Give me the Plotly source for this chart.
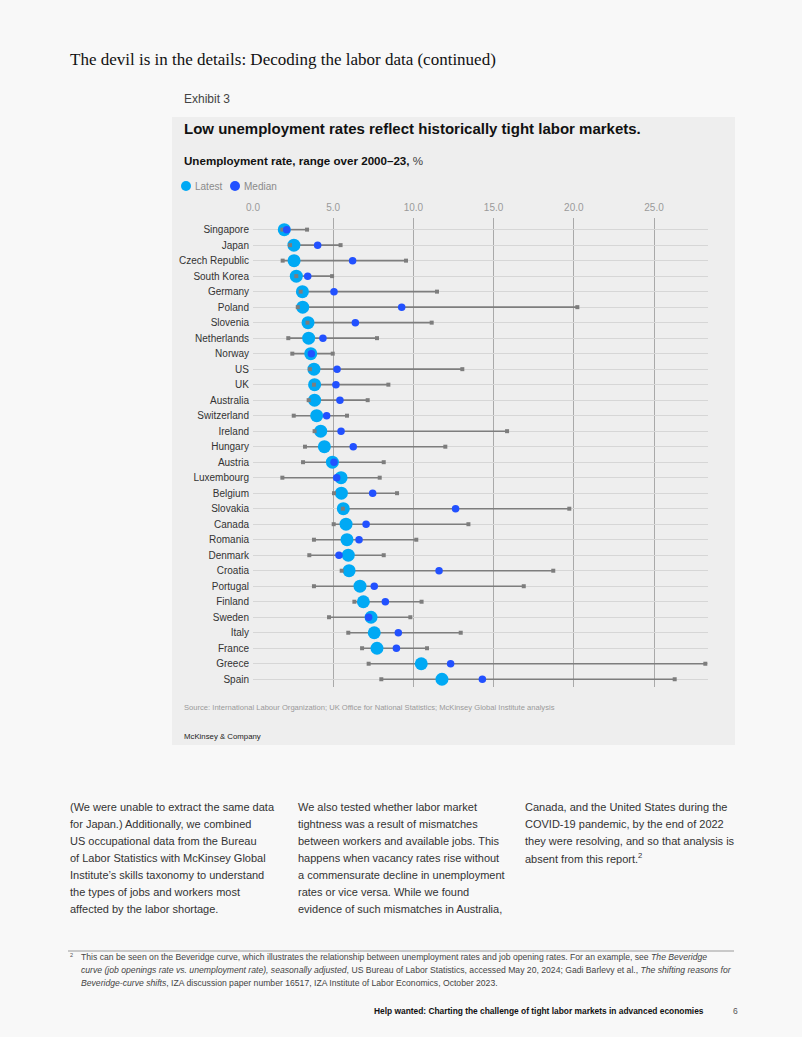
import plotly.graph_objects as go

countries = ["Singapore", "Japan", "Czech Republic", "South Korea", "Germany", "Poland",
             "Slovenia", "Netherlands", "Norway", "US", "UK", "Australia", "Switzerland",
             "Ireland", "Hungary", "Austria", "Luxembourg", "Belgium", "Slovakia", "Canada",
             "Romania", "Denmark", "Croatia", "Portugal", "Finland", "Sweden", "Italy",
             "France", "Greece", "Spain"]
latest = [1.95, 2.55, 2.56, 2.7, 3.08, 3.1, 3.43, 3.47, 3.6, 3.8, 3.84, 3.84, 3.97,
          4.22, 4.45, 4.95, 5.49, 5.51, 5.63, 5.8, 5.86, 5.94, 5.99, 6.67, 6.88, 7.36,
          7.56, 7.73, 10.49, 11.78]
median = [2.1, 4.03, 6.21, 3.41, 5.05, 9.27, 6.38, 4.36, 3.64, 5.24, 5.17, 5.42, 4.59,
          5.49, 6.25, 5.05, 5.22, 7.46, 12.63, 7.05, 6.61, 5.36, 11.6, 7.56, 8.25, 7.21,
          9.06, 8.94, 12.32, 14.3]
range_min = [1.83, 2.31, 1.85, 2.7, 2.97, 2.79, 3.4, 2.2, 2.45, 3.55, 3.8, 3.47, 2.54,
             3.84, 3.24, 3.12, 1.83, 5.05, 5.6, 5.03, 3.8, 3.51, 5.53, 3.8, 6.32, 4.74,
             5.94, 6.8, 7.21, 8.0]
range_max = [3.37, 5.46, 9.54, 4.93, 11.47, 20.22, 11.14, 7.73, 4.97, 13.05, 8.44, 7.15,
             5.86, 15.84, 11.99, 8.15, 7.9, 8.98, 19.72, 13.43, 10.18, 8.15, 18.72, 16.88,
             10.51, 9.81, 12.95, 10.85, 28.2, 26.29]
x_ticks = [0, 5, 10, 15, 20, 25]

CYAN = "#00a9f4"
BLUE = "#2251ff"
GREY = "#7d7d7d"
SANS = "Liberation Sans, Arial, sans-serif"

W_PX, H_PX = 802, 1037
L, R_EDGE, T, B = 253, 708, 218, 687

def px(xp):
    return (xp - L) / (R_EDGE - L)

def py(yp):
    return (B - yp) / (B - T)

n = len(countries)
rows = list(range(n))

line_x, line_y = [], []
for i in rows:
    line_x += [range_min[i], range_max[i], None]
    line_y += [i, i, None]

fig = go.Figure()
fig.add_trace(go.Scatter(x=line_x, y=line_y, mode="lines",
                         line=dict(color=GREY, width=1.6), hoverinfo="skip",
                         showlegend=False))
fig.add_trace(go.Scatter(x=latest, y=rows, mode="markers", name="Latest",
                         marker=dict(color=CYAN, size=13, line=dict(width=0)),
                         showlegend=False))
fig.add_trace(go.Scatter(x=range_min + range_max, y=rows + rows, mode="markers",
                         marker=dict(color=GREY, size=4, symbol="square", line=dict(width=0)),
                         hoverinfo="skip", showlegend=False))
fig.add_trace(go.Scatter(x=median, y=rows, mode="markers", name="Median",
                         marker=dict(color=BLUE, size=7.5, line=dict(width=0)),
                         showlegend=False))

shapes = [
    dict(type="rect", xref="paper", yref="paper", x0=px(172), x1=px(735),
         y0=py(745), y1=py(117), fillcolor="#eeeeee", line=dict(width=0), layer="below"),
    dict(type="line", xref="paper", yref="paper", x0=px(68), x1=px(734),
         y0=py(951), y1=py(951), line=dict(color="#9a9a9a", width=1.2)),
    dict(type="circle", xref="paper", yref="paper", x0=px(181), x1=px(191),
         y0=py(191), y1=py(181), fillcolor=CYAN, line=dict(width=0)),
    dict(type="circle", xref="paper", yref="paper", x0=px(230), x1=px(240),
         y0=py(191), y1=py(181), fillcolor=BLUE, line=dict(width=0)),
]

ann = []

def text(x, y, s, size, color="#222", family=SANS, anchor="left", weight=None):
    f = dict(size=size, color=color, family=family)
    if weight:
        f["weight"] = weight
    ann.append(dict(xref="paper", yref="paper", x=px(x), y=py(y), text=s,
                    showarrow=False, xanchor=anchor, yanchor="middle",
                    font=f, align="left"))

text(68, 59, "The devil is in the details: Decoding the labor data (continued)", 17,
     color="#111", family="Liberation Serif, Times New Roman, serif")
text(182, 99, "Exhibit 3", 12, color="#444")
text(182, 128, "Low unemployment rates reflect historically tight labor markets.", 15,
     color="#111", weight=600)
text(182, 161, "<b>Unemployment rate, range over 2000–23,</b> <span style='color:#444'>%</span>",
     11.6, color="#111")
text(193, 186, "Latest", 10, color="#8a8a8a")
text(242, 186, "Median", 10, color="#8a8a8a")
text(182, 707, "Source: International Labour Organization; UK Office for National Statistics; McKinsey Global Institute analysis",
     7.6, color="#9a9a9a")
text(182, 736, "McKinsey & Company", 7.8, color="#222")

col1 = ["(We were unable to extract the same data",
        "for Japan.) Additionally, we combined",
        "US occupational data from the Bureau",
        "of Labor Statistics with McKinsey Global",
        "Institute’s skills taxonomy to understand",
        "the types of jobs and workers most",
        "affected by the labor shortage."]
col2 = ["We also tested whether labor market",
        "tightness was a result of mismatches",
        "between workers and available jobs. This",
        "happens when vacancy rates rise without",
        "a commensurate decline in unemployment",
        "rates or vice versa. While we found",
        "evidence of such mismatches in Australia,"]
col3 = ["Canada, and the United States during the",
        "COVID-19 pandemic, by the end of 2022",
        "they were resolving, and so that analysis is",
        "absent from this report.<sup>2</sup>"]
for cx, col in [(68, col1), (296, col2), (523, col3)]:
    for k, line in enumerate(col):
        text(cx, 807 + 17 * k, line, 11, color="#333")

text(68, 955, "<sup>2</sup>", 8, color="#555")
foot = ["This can be seen on the Beveridge curve, which illustrates the relationship between unemployment rates and job opening rates. For an example, see <i>The Beveridge</i>",
        "<i>curve (job openings rate vs. unemployment rate), seasonally adjusted</i>, US Bureau of Labor Statistics, accessed May 20, 2024; Gadi Barlevy et al., <i>The shifting reasons for</i>",
        "<i>Beveridge-curve shifts</i>, IZA discussion paper number 16517, IZA Institute of Labor Economics, October 2023."]
for k, line in enumerate(foot):
    text(79, 957 + 12.8 * k, line, 8.65, color="#444")

text(706, 1011, "<b>Help wanted: Charting the challenge of tight labor markets in advanced economies</b>",
     8.4, color="#111", anchor="right")
text(731, 1011, "6", 8.5, color="#555")

fig.update_layout(
    width=W_PX, height=H_PX, autosize=False,
    margin=dict(l=L, r=W_PX - R_EDGE, t=T, b=H_PX - B, pad=0),
    paper_bgcolor="#f8f8f8", plot_bgcolor="rgba(0,0,0,0)",
    font=dict(family=SANS),
    shapes=shapes, annotations=ann, showlegend=False,
    xaxis=dict(range=[0, (R_EDGE - L) / 16.04], side="top", tickvals=x_ticks,
               tickformat=".1f", showgrid=True, gridcolor="#a9a9a9", gridwidth=1,
               zeroline=False, showline=False, ticks="", fixedrange=True,
               ticklabelstandoff=4,
               tickfont=dict(size=10, color="#9a9a9a")),
    yaxis=dict(range=[n - 0.5, -0.75], tickvals=rows, ticktext=countries,
               showgrid=True, gridcolor="#d6d6d6", gridwidth=1, zeroline=False,
               showline=False, ticks="", ticklabelstandoff=3,
               tickfont=dict(size=10, color="#333")),
)

fig.write_html("out.html")
